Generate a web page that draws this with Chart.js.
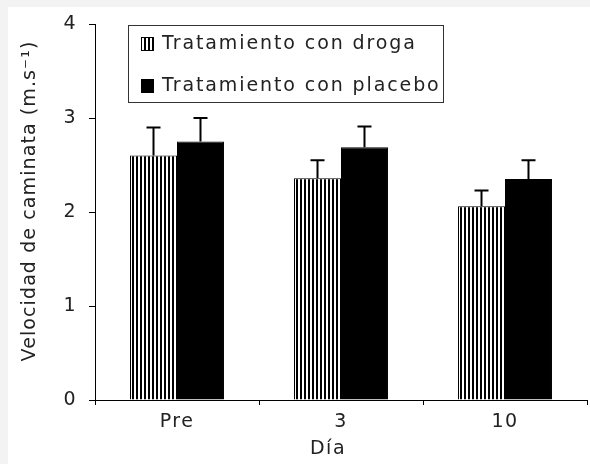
<!DOCTYPE html>
<html>
<head>
<meta charset="utf-8">
<script src="https://cdn.jsdelivr.net/npm/chart.js@4.4.1/dist/chart.umd.min.js"></script>
<style>
html, body { margin: 0; padding: 0; background: #f3f3f3; }
#wrap { width: 590px; height: 464px; }
</style>
</head>
<body>
<div id="wrap"><canvas id="c" width="590" height="464"></canvas></div>
<script>
// data
const dias = ['Pre', '3', '10'];
const droga = [2.6, 2.36, 2.06];
const drogaErr = [0.30, 0.19, 0.17];
const placebo = [2.75, 2.69, 2.35];
const placeboErr = [0.25, 0.22, 0.20];
const yTicks = [0, 1, 2, 3, 4];

const FONT = '"DejaVu Sans", Verdana, sans-serif';
const SIZE = 19;
const SPACING = '1.5px';
const TEXT = '#222';

// vertical stripes for the drug bars
function stripes() {
    const p = document.createElement('canvas');
    p.width = 4; p.height = 4;
    const c = p.getContext('2d');
    c.fillStyle = '#fff';
    c.fillRect(0, 0, 4, 4);
    c.fillStyle = '#000';
    c.fillRect(0, 0, 2, 4);
    return c.createPattern(p, 'repeat');
}
const rayado = stripes();

const background = {
    id: 'background',
    beforeLayout(chart) { chart.ctx.letterSpacing = SPACING; },
    beforeDraw(chart) {
        const ctx = chart.ctx;
        ctx.letterSpacing = SPACING;
        ctx.save();
        ctx.fillStyle = '#f3f3f3';
        ctx.fillRect(0, 0, chart.width, chart.height);
        ctx.fillStyle = '#fff';
        ctx.fillRect(8, 7, chart.width - 8, chart.height - 7);
        ctx.restore();
    }
};

const errorBars = {
    id: 'errorBars',
    afterDatasetsDraw(chart) {
        const ctx = chart.ctx;
        const errs = [drogaErr, placeboErr];
        ctx.save();
        ctx.strokeStyle = '#000';
        ctx.lineWidth = 2;
        chart.data.datasets.forEach((ds, i) => {
            chart.getDatasetMeta(i).data.forEach((bar, j) => {
                const top = chart.scales.y.getPixelForValue(ds.data[j] + errs[i][j]);
                ctx.beginPath();
                ctx.moveTo(bar.x, bar.y);
                ctx.lineTo(bar.x, top);
                ctx.moveTo(bar.x - 7, top);
                ctx.lineTo(bar.x + 7, top);
                ctx.stroke();
            });
        });
        ctx.restore();
    }
};

const extras = {
    id: 'extras',
    afterDraw(chart) {
        const ctx = chart.ctx;
        ctx.save();
        ctx.font = SIZE + 'px ' + FONT;
        ctx.fillStyle = TEXT;
        ctx.letterSpacing = '1.9px';

        // legend box
        ctx.strokeStyle = '#333';
        ctx.lineWidth = 1;
        ctx.strokeRect(128.5, 25.5, 315, 77);
        const rows = [44, 86];
        chart.data.datasets.forEach((ds, i) => {
            const y = rows[i];
            ctx.fillStyle = ds.backgroundColor;
            ctx.fillRect(141, y - 7, 13, 14);
            ctx.strokeStyle = '#000';
            ctx.strokeRect(141.5, y - 6.5, 12, 13);
            ctx.fillStyle = TEXT;
            ctx.textAlign = 'left';
            ctx.textBaseline = 'middle';
            ctx.fillText(ds.label, 162, y);
        });

        // axis titles
        ctx.letterSpacing = SPACING;
        ctx.textAlign = 'center';
        ctx.textBaseline = 'middle';
        ctx.fillText('Día', 328, 449);
        ctx.letterSpacing = '1.1px';
        ctx.translate(30, 201);
        ctx.rotate(-Math.PI / 2);
        ctx.fillText('Velocidad de caminata (m.s⁻¹)', 0, 0);
        ctx.restore();
    }
};

new Chart(document.getElementById('c'), {
    type: 'bar',
    data: {
        labels: dias,
        datasets: [{
            label: 'Tratamiento con droga',
            data: droga,
            backgroundColor: rayado,
            borderColor: '#000',
            borderWidth: 1
        }, {
            label: 'Tratamiento con placebo',
            data: placebo,
            backgroundColor: '#000',
            borderColor: '#000',
            borderWidth: 1
        }]
    },
    options: {
        responsive: false,
        animation: false,
        categoryPercentage: 0.573,
        barPercentage: 1,
        layout: { padding: { left: 0, right: 3, top: 24, bottom: 0 } },
        plugins: { legend: { display: false }, tooltip: { enabled: false } },
        scales: {
            x: {
                offset: true,
                grid: { offset: true, drawOnChartArea: false, tickLength: 5, color: '#000' },
                border: { color: '#000', width: 1 },
                ticks: { color: TEXT, font: { family: FONT, size: SIZE }, padding: 6 },
                afterFit: s => { s.height = 64; }
            },
            y: {
                min: 0,
                max: 4,
                afterBuildTicks: s => { s.ticks = yTicks.map(v => ({ value: v })); },
                grid: { drawOnChartArea: false, tickLength: 6, color: '#000' },
                border: { color: '#000', width: 1 },
                ticks: { color: TEXT, font: { family: FONT, size: SIZE }, padding: 12 },
                afterFit: s => { s.width = 95; }
            }
        }
    },
    plugins: [background, errorBars, extras]
});
</script>
</body>
</html>
